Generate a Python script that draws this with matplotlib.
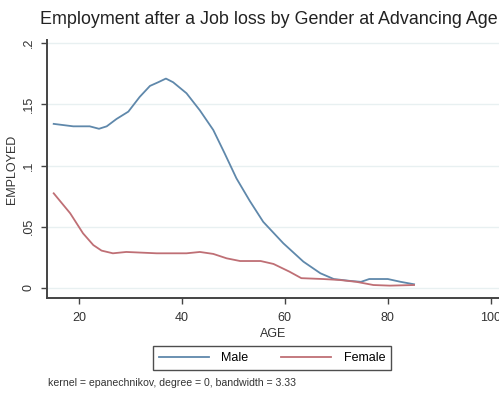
import matplotlib
matplotlib.use("Agg")
import matplotlib.pyplot as plt

plt.rcParams['font.family'] = ['Liberation Sans', 'DejaVu Sans']

# lowess smooth of employment share by age
male_age = [15.1, 18.9, 22.1, 23.9, 25.4, 27.3, 29.6, 31.8, 33.8, 35.4, 36.9, 38.3,
            40.9, 43.5, 46.1, 48.3, 50.6, 53.2, 55.8, 59.7, 63.6, 66.9, 69.5, 72.8,
            74.8, 76.4, 80.0, 82.5, 85.1]
male_emp = [0.134, 0.132, 0.132, 0.130, 0.132, 0.138, 0.144, 0.156, 0.165, 0.168, 0.171, 0.168,
            0.159, 0.145, 0.129, 0.110, 0.0895, 0.071, 0.054, 0.0365, 0.0215, 0.012, 0.0073, 0.0057,
            0.005, 0.0073, 0.0073, 0.005, 0.003]

female_age = [15.1, 18.3, 20.8, 22.8, 24.4, 26.6, 29.2, 35.1, 40.9, 43.5, 46.1, 48.7,
              51.3, 55.3, 57.8, 60.9, 63.2, 67.4, 70.7, 73.9, 77.2, 80.4, 85.1]
female_emp = [0.0773, 0.061, 0.0446, 0.035, 0.0305, 0.0283, 0.0294, 0.0283, 0.0283, 0.0294, 0.0278, 0.0242,
              0.022, 0.022, 0.0196, 0.0133, 0.008, 0.0073, 0.0065, 0.005, 0.0024, 0.0019, 0.0024]

yticks = [0, 0.05, 0.1, 0.15, 0.2]
ytick_labels = ['0', '.05', '.1', '.15', '.2']
xticks = [20, 40, 60, 80, 100]

W, H = 499, 394
fig = plt.figure(figsize=(W / 100, H / 100), dpi=100)
fig.patch.set_facecolor('white')

# axes placed in pixel terms: left 47, right 499, top 40, bottom 298
ax = fig.add_axes([47 / W, 1 - 298 / H, (499 - 47) / W, (298 - 40) / H])

for y in yticks:
    ax.axhline(y, color='#e8f0f1', lw=1.0, zorder=0)

ax.plot(male_age, male_emp, color='#5f88ab', lw=1.3, label='Male')
ax.plot(female_age, female_emp, color='#bf6f75', lw=1.3, label='Female')

ax.set_xlim(13.8, 101.6)
ax.set_ylim(-0.0082, 0.2025)

for s in ['top', 'right']:
    ax.spines[s].set_visible(False)
for s in ['left', 'bottom']:
    ax.spines[s].set_color('#444444')
    ax.spines[s].set_linewidth(1.4)

ax.set_xticks(xticks)
ax.set_xticklabels([str(x) for x in xticks], fontsize=9, color='#333333')
ax.set_yticks(yticks)
ax.set_yticklabels(ytick_labels, fontsize=9, color='#333333', rotation=90, va='center')
ax.tick_params(axis='x', direction='out', length=4, width=1, color='#444444', pad=6)
ax.tick_params(axis='y', direction='out', length=4, width=1, color='#444444', pad=5)

ax.set_xlabel('AGE', fontsize=9, color='#333333', labelpad=3)
ax.set_ylabel('EMPLOYED', fontsize=9, color='#333333', labelpad=3)

fig.text(40 / W, 1 - 20 / H, 'Employment after a Job loss by Gender at Advancing Age',
         fontsize=12.9, color='#222222', ha='left', va='center')

leg = fig.legend(loc='center', bbox_to_anchor=(272 / W, 1 - 358 / H), ncol=2,
                 fontsize=9, frameon=True, fancybox=False, handlelength=4.0,
                 columnspacing=2.6, borderpad=0.45, handletextpad=1.0)
leg.get_frame().set_edgecolor('#222222')
leg.get_frame().set_linewidth(1.0)

fig.text(48 / W, 1 - 383 / H, 'kernel = epanechnikov, degree = 0, bandwidth = 3.33',
         fontsize=7.6, color='#333333', ha='left', va='center')

fig.savefig('out.png', dpi=100)
